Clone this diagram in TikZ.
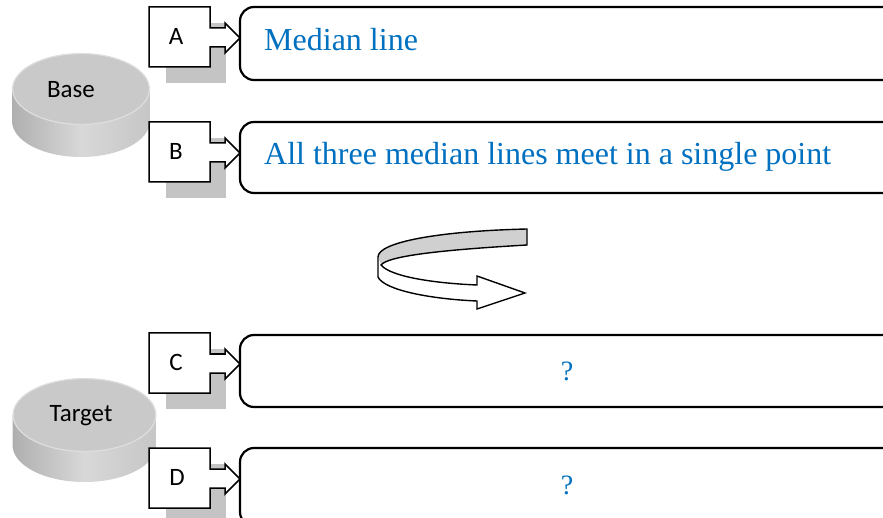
\documentclass[tikz,border=0pt]{standalone}
\usepackage{fontspec}
\setmainfont{Liberation Serif}
\newfontfamily\labelfont{Carlito}
\definecolor{textblue}{HTML}{0070C0}
\definecolor{shadowgray}{HTML}{C4C4C4}
\definecolor{discface}{HTML}{C9C9C9}
\definecolor{discrim}{HTML}{DEDEDE}
\definecolor{sidedark}{HTML}{AFAFAF}
\definecolor{sidelight}{HTML}{D8D8D8}
\definecolor{sidemid}{HTML}{C6C6C6}
\definecolor{ribbongray}{HTML}{D0D0D0}
\begin{document}
\begin{tikzpicture}[x=1pt,y=-1pt,
  panel/.style={draw=black, line width=2.2pt, rounded corners=14pt, fill=white,
    anchor=north west, minimum width=680pt, inner sep=0pt, outer sep=0pt},
  tagshape/.style={fill=white, draw=black, line width=1.5pt, line join=miter},
  tagshadow/.style={fill=shadowgray, draw=none},
  tagtext/.style={font=\labelfont\fontsize{25}{29}\selectfont, inner sep=0pt},
  disctext/.style={font=\labelfont\fontsize{25}{29}\selectfont, inner sep=0pt},
  paneltext/.style={font=\fontsize{32}{37}\selectfont, text=textblue,
    inner sep=0pt, anchor=base west},
  qmark/.style={font=\fontsize{28}{32}\selectfont, text=textblue,
    inner sep=0pt, anchor=base},
  tag/.pic={
    \fill[tagshadow] (17,16) rectangle (77,76);
    \draw[tagshape] (0,0) -- (61,0) -- (61,21) -- (76,21) -- (76,16) -- (91,31)
      -- (76,46) -- (76,40) -- (61,40) -- (61,60) -- (0,60) -- cycle;
  }
]
\useasboundingbox (0,0) rectangle (883,518);
\clip (0,0) rectangle (883,518);

% cylinders: centre x, top-face centre y, bottom centre y, radii
\foreach \cx/\ct/\cb/\rx/\ry in {81/89/121/69/36, 84.5/415/445/72/37}{
  \shade[left color=sidedark, right color=sidemid, middle color=sidelight]
    (\cx-\rx,\ct) -- (\cx-\rx,\cb)
    arc[start angle=180, end angle=360, x radius=\rx pt, y radius=\ry pt]
    -- (\cx+\rx,\ct) -- cycle;
  \fill[discface, draw=discrim, line width=1.2pt] (\cx,\ct)
    ellipse [x radius=\rx pt - 0.6pt, y radius=\ry pt - 0.6pt];
}
\node[disctext] (base) at (71,90) {Base};
\node[disctext] (target) at (81,416) {Target};

% panels
\node[panel, minimum height=73pt] (panelA) at (240,7) {};
\node[panel, minimum height=71pt] (panelB) at (240,122) {};
\node[panel, minimum height=72pt] (panelC) at (240,335) {};
\node[panel, minimum height=78pt] (panelD) at (240,448) {};

% tags with arrow
\pic at (149,7) {tag};
\pic at (149,122) {tag};
\pic at (149,333) {tag};
\pic at (149,448) {tag};
\node[tagtext] (tagA) at (176,36) {A};
\node[tagtext] (tagB) at (176,151) {B};
\node[tagtext] (tagC) at (176,362) {C};
\node[tagtext] (tagD) at (177,477) {D};

% panel texts
\node[paneltext] (txtA) at (264,51) {Median line};
\node[paneltext] (txtB) at (264,165) {All three median lines meet in a single point};
\node[qmark] (txtC) at (567,381) {?};
\node[qmark] (txtD) at (567,494) {?};

% curved ribbon arrow
\fill[white] (527,229) .. controls (440,231) and (378,242) .. (378,257)
  -- (378,277) .. controls (384,290) and (430,299) .. (477,301)
  -- (477,309) -- (525,293) -- (477,276) -- (477,285)
  .. controls (430,283) and (390,276) .. (381,265)
  .. controls (388,256) and (440,250) .. (527,245) -- cycle;
\fill[ribbongray] (527,229) .. controls (440,231) and (378,242) .. (378,257)
  -- (381,265) .. controls (388,256) and (440,250) .. (527,245) -- cycle;
\draw[line width=1.4pt, line join=miter] (527,229) .. controls (440,231) and (378,242) .. (378,257)
  -- (378,277) .. controls (384,290) and (430,299) .. (477,301)
  -- (477,309) -- (525,293) -- (477,276) -- (477,285)
  .. controls (430,283) and (390,276) .. (381,265)
  .. controls (388,256) and (440,250) .. (527,245) -- cycle;
\end{tikzpicture}
\end{document}
